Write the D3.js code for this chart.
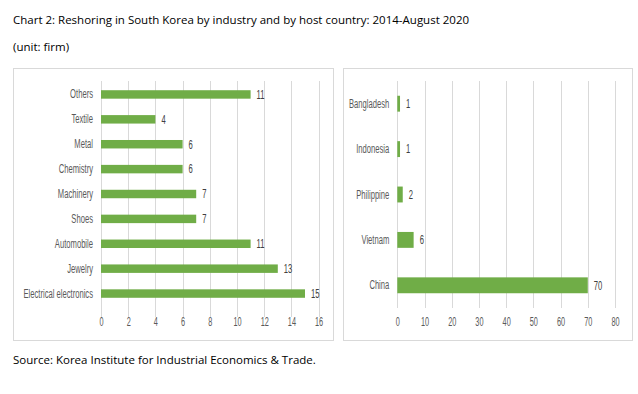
<!DOCTYPE html>
<html>
<head>
<meta charset="utf-8">
<script src="https://cdn.jsdelivr.net/npm/d3@7"></script>
<style>
  body { margin: 0; background: #fff; }
  svg { display: block; }
</style>
</head>
<body>
<script>
// industry panel
var industries = ["Others", "Textile", "Metal", "Chemistry", "Machinery", "Shoes", "Automobile", "Jewelry", "Electrical electronics"];
var industryValues = [11, 4, 6, 6, 7, 7, 11, 13, 15];
var industryTicks = [0, 2, 4, 6, 8, 10, 12, 14, 16];

// host country panel
var countries = ["Bangladesh", "Indonesia", "Philippine", "Vietnam", "China"];
var countryValues = [1, 1, 2, 6, 70];
var countryTicks = [0, 10, 20, 30, 40, 50, 60, 70, 80];

var green = "#70ad47";
var labelColor = "#595959";
var gridColor = "#d9d9d9";
var chartFont = "'Liberation Sans', Arial, sans-serif";
var textFont = "'Open Sans', 'Noto Sans', sans-serif";
var squeeze = 0.61; // chart labels in the original use a condensed face

var svg = d3.select("body").append("svg")
  .attr("width", 638)
  .attr("height", 394);

// Header and source text
function note(y, str) {
  svg.append("text").attr("x", 13).attr("y", y)
    .style("font-family", textFont).style("font-size", "11.5px").style("fill", "#000")
    .text(str);
}
note(24, "Chart 2: Reshoring in South Korea by industry and by host country: 2014-August 2020");
note(51, "(unit: firm)");
note(364, "Source: Korea Institute for Industrial Economics & Trade.");

function condense(sel) {
  sel.each(function() {
    var len = this.getComputedTextLength();
    d3.select(this).attr("textLength", len * squeeze).attr("lengthAdjust", "spacingAndGlyphs");
  });
}

function drawPanel(box, plot, cats, vals, ticks, pad) {
  // Panel frame
  svg.append("rect")
    .attr("x", box.x + 0.5).attr("y", box.y + 0.5)
    .attr("width", box.w).attr("height", box.h)
    .style("fill", "#fff").style("stroke", gridColor).style("stroke-width", 1);

  var g = svg.append("g");
  var x = d3.scaleLinear().domain([0, ticks[ticks.length - 1]]).range([plot.x0, plot.x1]);
  var y = d3.scaleBand().domain(cats).range([plot.y0, plot.y1]).paddingInner(pad).paddingOuter(pad / 2);

  // Vertical gridlines
  g.selectAll(".grid").data(ticks).enter().append("line")
    .attr("x1", function(d) { return Math.round(x(d)) + 0.5; })
    .attr("x2", function(d) { return Math.round(x(d)) + 0.5; })
    .attr("y1", plot.g0).attr("y2", plot.g1)
    .style("stroke", gridColor).style("stroke-width", 1);

  // Bars
  g.selectAll(".bar").data(vals).enter().append("rect")
    .attr("x", x(0))
    .attr("y", function(d, i) { return y(cats[i]); })
    .attr("width", function(d) { return x(d) - x(0); })
    .attr("height", y.bandwidth())
    .style("fill", green);

  // Value labels
  g.selectAll(".val").data(vals).enter().append("text")
    .attr("x", function(d) { return x(d) + 6; })
    .attr("y", function(d, i) { return y(cats[i]) + y.bandwidth() / 2; })
    .attr("dy", "0.35em")
    .style("font-family", chartFont).style("font-size", "12.5px").style("fill", "#404040")
    .text(function(d) { return d; })
    .call(condense);

  // Category axis
  var ya = g.append("g").attr("transform", "translate(" + (plot.x0 - 8) + ",0)")
    .call(d3.axisLeft(y).tickSize(0).tickPadding(0));
  ya.select(".domain").remove();
  ya.selectAll("text").style("font-family", chartFont).style("font-size", "12.5px").style("fill", labelColor)
    .call(condense);

  // Value axis
  var xa = g.append("g").attr("transform", "translate(0," + plot.ty + ")")
    .call(d3.axisBottom(x).tickValues(ticks).tickSize(0).tickPadding(0));
  xa.select(".domain").remove();
  xa.selectAll("text").style("font-family", chartFont).style("font-size", "12px").style("fill", labelColor)
    .call(condense);
}

drawPanel({x: 13, y: 68, w: 320, h: 272},
  {x0: 101, x1: 318.6, y0: 82, y1: 306, g0: 81, g1: 317, ty: 317},
  industries, industryValues, industryTicks, 0.66);
drawPanel({x: 343, y: 68, w: 289, h: 272},
  {x0: 397.3, x1: 615, y0: 81, y1: 308, g0: 81, g1: 308, ty: 317},
  countries, countryValues, countryTicks, 0.65);
</script>
</body>
</html>
